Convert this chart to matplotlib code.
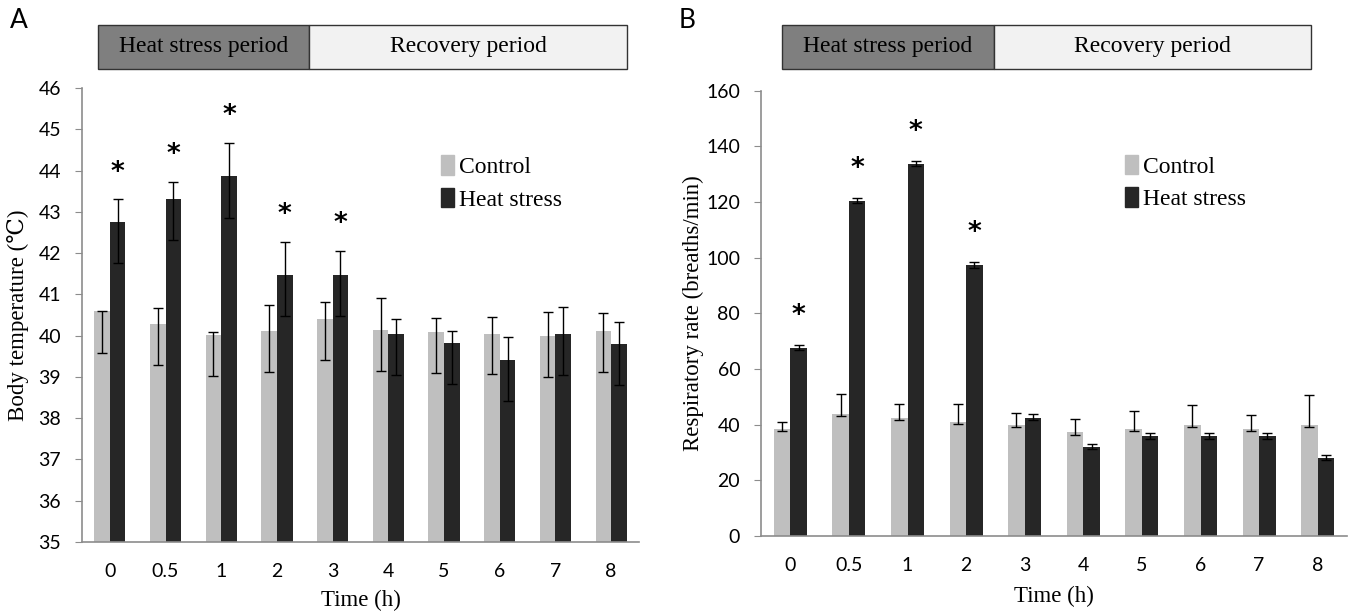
import numpy as np
import matplotlib
matplotlib.use("Agg")
import matplotlib.pyplot as plt
from matplotlib.patches import Rectangle, Patch

# ---- data ----
times = ["0", "0.5", "1", "2", "3", "4", "5", "6", "7", "8"]

# A: body temperature
temp_ctrl = [40.60, 40.29, 40.02, 40.11, 40.40, 40.13, 40.10, 40.05, 39.98, 40.12]
temp_ctrl_up = [0.00, 0.39, 0.06, 0.63, 0.42, 0.77, 0.32, 0.41, 0.60, 0.42]
temp_ctrl_dn = [1.01, 1.00, 1.00, 0.98, 0.99, 0.99, 1.00, 0.99, 0.99, 0.99]
temp_hs = [42.75, 43.32, 43.87, 41.46, 41.46, 40.03, 39.82, 39.42, 40.04, 39.79]
temp_hs_up = [0.55, 0.41, 0.79, 0.81, 0.59, 0.37, 0.30, 0.55, 0.66, 0.53]
temp_hs_dn = [0.99, 1.00, 1.01, 0.99, 0.99, 0.99, 1.00, 1.00, 0.99, 0.99]
temp_sig = [True, True, True, True, True, False, False, False, False, False]

# B: respiratory rate
resp_ctrl = [38.5, 44.0, 42.5, 41.1, 39.8, 37.4, 38.6, 39.8, 38.6, 39.8]
resp_ctrl_up = [2.5, 6.9, 5.0, 6.5, 4.4, 4.7, 6.3, 7.2, 4.8, 10.9]
resp_ctrl_dn = [0.8, 1.0, 0.9, 0.7, 0.6, 1.1, 0.9, 0.6, 0.9, 0.6]
resp_hs = [67.6, 120.3, 133.7, 97.3, 42.5, 32.0, 35.8, 35.8, 35.8, 28.0]
resp_hs_up = [0.9, 1.1, 1.1, 1.0, 1.2, 1.1, 1.2, 1.2, 1.2, 1.0]
resp_hs_dn = [0.9, 0.8, 0.8, 1.0, 0.9, 0.7, 0.8, 0.8, 0.8, 0.8]
resp_sig = [True, True, True, True, False, False, False, False, False, False]

C_CTRL = "#bfbfbf"
C_HS = "#262626"
AXIS_C = "#8c8c8c"
SERIF = ["Liberation Serif", "DejaVu Serif"]
SANS = ["Lato", "DejaVu Sans"]

fig = plt.figure(figsize=(13.48, 6.13), dpi=100)
W, H = 1348.0, 613.0


def px_axes(left, top, right, bottom):
    return fig.add_axes([left / W, 1 - bottom / H, (right - left) / W, (bottom - top) / H])


def draw_panel(ax, ctrl, cup, cdn, hs, hup, hdn, sig, ylim, ystep, star_off, ylabel,
               ylab_x, xlab_y, leg_anchor):
    x = np.arange(len(times))
    w = 0.28
    ax.bar(x - w / 2, ctrl, w, color=C_CTRL, zorder=2)
    ax.bar(x + w / 2, hs, w, color=C_HS, zorder=2)
    ax.errorbar(x - w / 2, ctrl, yerr=[cdn, cup], fmt="none", ecolor="black",
                elinewidth=1, capsize=3.5, capthick=1, zorder=3)
    ax.errorbar(x + w / 2, hs, yerr=[hdn, hup], fmt="none", ecolor="black",
                elinewidth=1, capsize=3.5, capthick=1, zorder=3)
    for i in range(len(times)):
        if sig[i]:
            ax.text(x[i] + w / 2, hs[i] + hup[i] + star_off, "*", ha="center",
                    va="center", fontsize=19, fontweight="bold", family="DejaVu Sans")
    ax.set_xlim(-0.5, len(times) - 0.5)
    ax.set_ylim(*ylim)
    ax.set_yticks(np.arange(ylim[0], ylim[1] + 0.01, ystep))
    ax.set_xticks(x)
    ax.set_xticklabels(times)
    for s in ["top", "right"]:
        ax.spines[s].set_visible(False)
    for s in ["left", "bottom"]:
        ax.spines[s].set_color(AXIS_C)
        ax.spines[s].set_linewidth(1.2)
    ax.tick_params(axis="y", length=5, color=AXIS_C, pad=10, labelsize=14)
    ax.tick_params(axis="x", length=0, pad=15, labelsize=14)
    for lab in ax.get_xticklabels() + ax.get_yticklabels():
        lab.set_family(SANS)
    ax.set_ylabel(ylabel, family=SERIF, fontsize=16.5)
    ax.yaxis.set_label_coords(ylab_x, 0.5)
    ax.set_xlabel("Time (h)", family=SERIF, fontsize=16.5)
    ax.xaxis.set_label_coords(0.5, xlab_y)
    handles = [Patch(color=C_CTRL, label="Control"), Patch(color=C_HS, label="Heat stress")]
    ax.legend(handles=handles, loc="upper left", bbox_to_anchor=leg_anchor, frameon=False,
              prop={"family": SERIF, "size": 17}, handlelength=0.55, handleheight=0.9,
              handletextpad=0.2, labelspacing=0.4, borderpad=0, borderaxespad=0)


def header(left, split, right, top, bottom):
    y0 = 1 - bottom / H
    hh = (bottom - top) / H
    fig.add_artist(Rectangle((left / W, y0), (split - left) / W, hh, facecolor="#7f7f7f",
                             edgecolor="#333333", lw=1, transform=fig.transFigure))
    fig.add_artist(Rectangle((split / W, y0), (right - split) / W, hh, facecolor="#f2f2f2",
                             edgecolor="#333333", lw=1, transform=fig.transFigure))
    yc = y0 + hh / 2
    fig.text((left + split) / 2 / W, yc, "Heat stress period", ha="center", va="center",
             family=SERIF, fontsize=17)
    fig.text((split + right) / 2 / W, yc, "Recovery period", ha="center", va="center",
             family=SERIF, fontsize=17)


axA = px_axes(82, 88, 639, 542)
draw_panel(axA, temp_ctrl, temp_ctrl_up, temp_ctrl_dn, temp_hs, temp_hs_up, temp_hs_dn,
           temp_sig, (35, 46), 1, 0.65, "Body temperature (\u2103)", -0.095, -0.105,
           (0.645, 0.852))

axB = px_axes(761, 90.7, 1347, 536)
draw_panel(axB, resp_ctrl, resp_ctrl_up, resp_ctrl_dn, resp_hs, resp_hs_up, resp_hs_dn,
           resp_sig, (0, 160), 20, 10.5, "Respiratory rate (breaths/min)", -0.098, -0.113,
           (0.621, 0.856))

header(97.7, 309, 627, 24.7, 68.7)
header(782, 993.7, 1311, 25, 68.7)

fig.text(10 / W, 1 - 20 / H, "A", ha="left", va="center", fontsize=19, family=SANS)
fig.text(679 / W, 1 - 20 / H, "B", ha="left", va="center", fontsize=19, family=SANS)

fig.savefig("out.png", dpi=100)
